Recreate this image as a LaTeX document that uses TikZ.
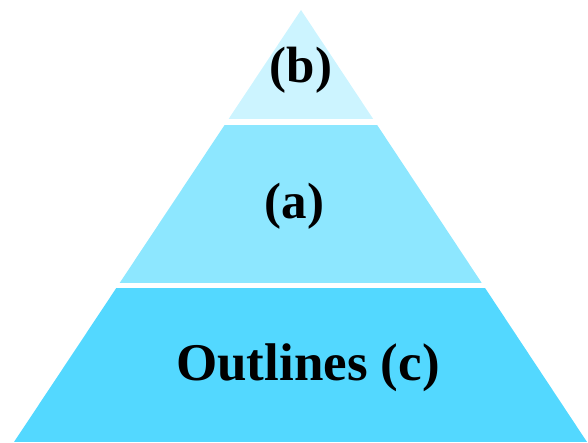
\documentclass[tikz,border=0pt]{standalone}
\usepackage{fontspec}
\setmainfont{Liberation Serif}
\definecolor{tiertop}{RGB}{204,244,255}
\definecolor{tiermid}{RGB}{141,231,255}
\definecolor{tierbot}{RGB}{83,216,255}
\begin{document}
\begin{tikzpicture}[x=1pt,y=1pt,
  lbl/.style={font=\bfseries\fontsize{51}{51}\selectfont, anchor=base, inner sep=0pt}]
\useasboundingbox (0,0) rectangle (588,442);
\begin{scope}
  \clip (14,0) -- (301,432) -- (587,0) -- cycle;
  \fill[tierbot] (0,0) rectangle (588,154);
  \fill[tiermid] (0,159) rectangle (588,317);
  \fill[tiertop] (0,323) rectangle (588,442);
\end{scope}
\node[lbl] (b) at (301,359) {(b)};
\node[lbl] (a) at (294.5,223.5) {(a)};
\node[lbl, font=\bfseries\fontsize{53}{53}\selectfont] (c) at (308,61.5) {Outlines (c)};
\end{tikzpicture}
\end{document}
